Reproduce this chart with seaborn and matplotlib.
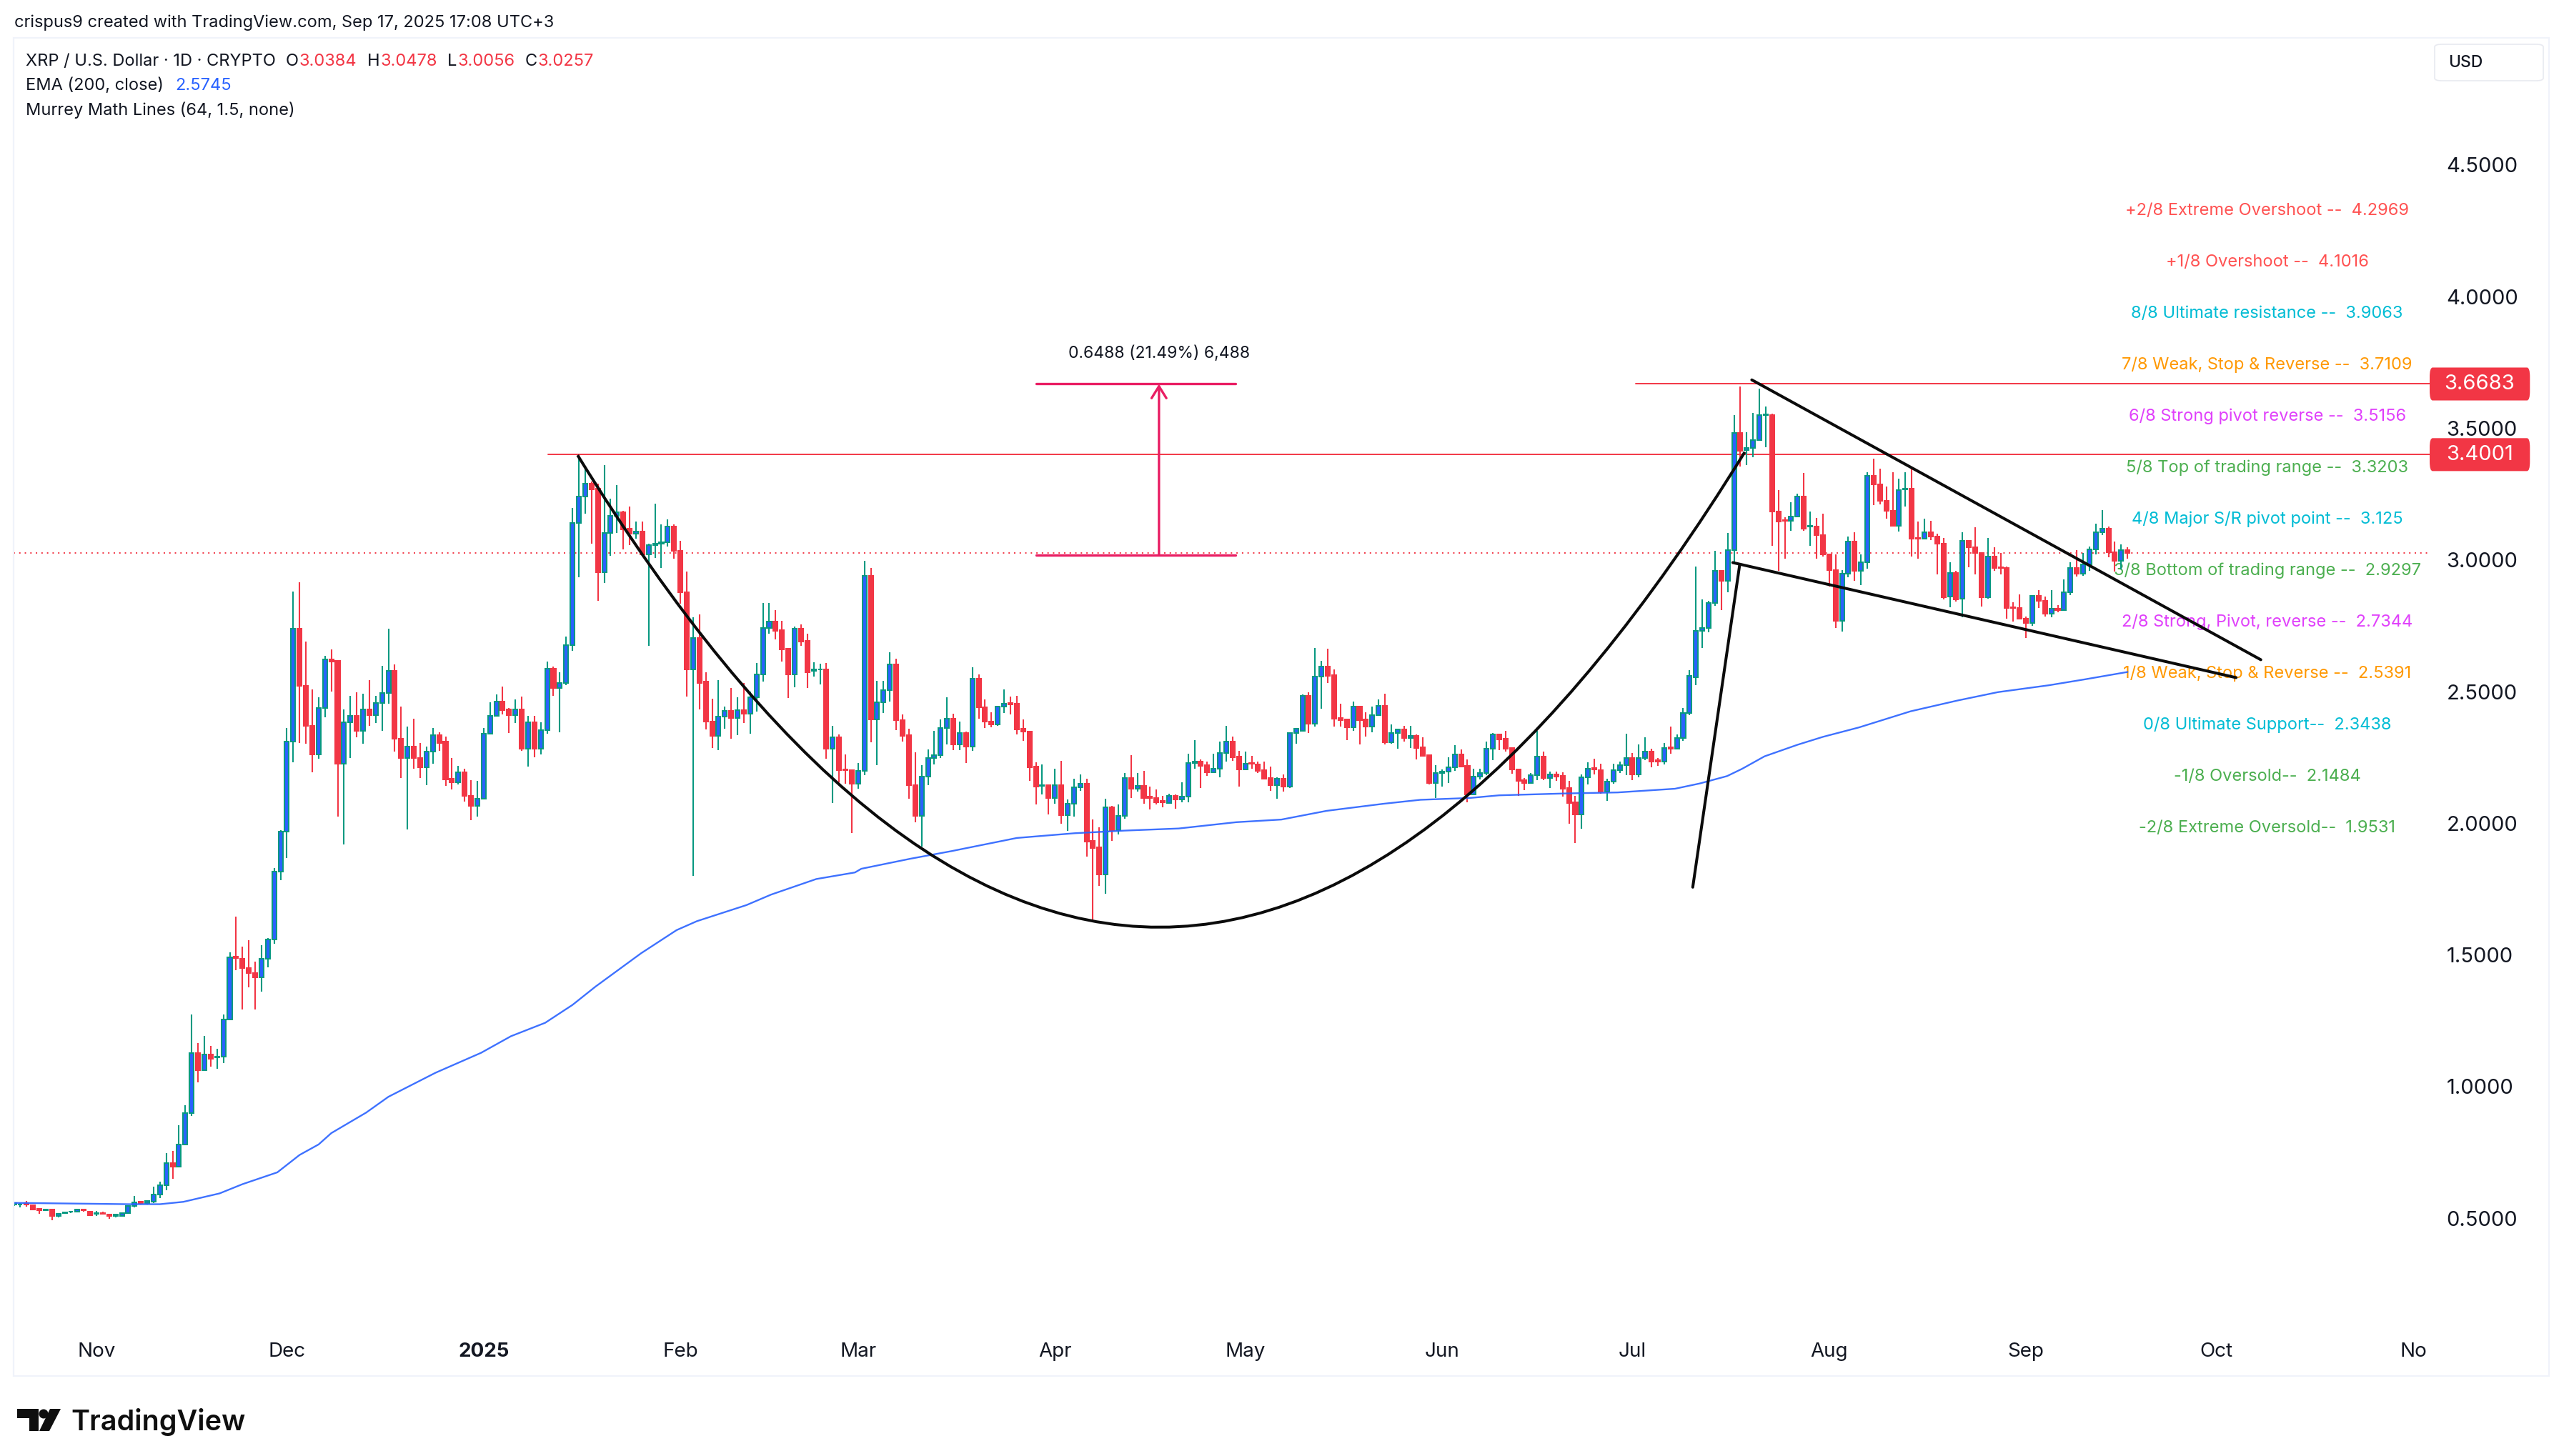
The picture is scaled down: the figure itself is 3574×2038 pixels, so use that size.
import numpy as np
import pandas as pd
import matplotlib
matplotlib.use("Agg")
import matplotlib.pyplot as plt
from matplotlib.patches import FancyBboxPatch, Rectangle, Polygon, Circle, PathPatch
from matplotlib.path import Path
from matplotlib.transforms import blended_transform_factory
import seaborn as sns

# ---- daily candles, day number counted from 1 Nov 2024 ----
first_day = -13
opens = [
 .552,.551,.558,.549,.536,.529,.534,.507,.520,.524,.524,.533,.525,.516,.520,.513,.507,.507,.518,.545,
 .562,.556,.563,.591,.625,.710,.696,.780,.899,1.128,1.061,1.121,1.112,1.113,1.255,1.492,1.485,1.449,1.430,1.414,
 1.485,1.559,1.817,1.968,2.311,2.738,2.523,2.371,2.262,2.438,2.623,2.616,2.225,2.384,2.409,2.350,2.433,2.410,2.457,2.495,
 2.580,2.320,2.249,2.290,2.249,2.213,2.273,2.334,2.309,2.168,2.156,2.194,2.105,2.067,2.094,2.341,2.409,2.463,2.431,2.410,
 2.431,2.282,2.384,2.282,2.354,2.588,2.513,2.534,2.677,3.140,3.241,3.289,3.271,2.953,3.102,3.168,3.180,3.118,3.099,3.107,
 3.020,3.056,3.061,3.067,3.128,3.035,2.878,2.583,2.703,2.537,2.386,2.331,2.404,2.426,2.399,2.429,2.417,2.479,2.566,2.742,
 2.766,2.733,2.663,2.566,2.740,2.694,2.578,2.583,2.583,2.283,2.327,2.205,2.201,2.150,2.199,2.939,2.394,2.459,2.506,2.604,
 2.392,2.334,2.145,2.029,2.178,2.247,2.259,2.361,2.398,2.299,2.343,2.290,2.550,2.440,2.387,2.375,2.443,2.457,2.455,2.358,
 2.349,2.214,2.142,2.145,2.096,2.145,2.031,2.073,2.137,2.151,1.933,1.908,1.806,2.060,1.974,2.029,2.172,2.131,2.141,2.100,
 2.097,2.084,2.076,2.103,2.091,2.100,2.228,2.234,2.221,2.194,2.206,2.266,2.309,2.252,2.205,2.228,2.223,2.202,2.171,2.145,
 2.169,2.140,2.342,2.352,2.484,2.379,2.556,2.594,2.562,2.400,2.393,2.365,2.442,2.393,2.368,2.410,2.446,2.308,2.344,2.357,
 2.325,2.332,2.288,2.259,2.154,2.190,2.195,2.212,2.261,2.218,2.108,2.176,2.192,2.282,2.336,2.321,2.286,2.204,2.163,2.154,
 2.182,2.252,2.173,2.185,2.180,2.134,2.079,2.032,2.174,2.209,2.201,2.121,2.157,2.201,2.221,2.249,2.185,2.248,2.271,2.240,
 2.235,2.288,2.284,2.323,2.418,2.555,2.732,2.741,2.837,2.960,2.920,3.038,3.482,3.417,3.425,3.455,3.550,3.551,3.184,3.151,
 3.148,3.166,3.240,3.127,3.127,3.094,3.020,2.962,2.768,2.948,3.070,2.960,2.991,3.319,3.286,3.225,3.187,3.130,3.268,3.272,
 3.084,3.081,3.106,3.090,3.062,2.860,2.951,2.852,3.073,3.047,3.026,2.857,3.013,2.973,2.969,2.821,2.818,2.777,2.760,2.863,
 2.845,2.795,2.815,2.810,2.877,2.970,2.948,2.984,3.041,3.106,3.119,3.030,2.996,3.0384]
highs = [
 .560,.556,.565,.549,.536,.534,.534,.516,.522,.525,.533,.533,.525,.527,.524,.513,.513,.518,.545,.583,
 .565,.565,.620,.638,.747,.756,.852,.930,1.274,1.166,1.193,1.155,1.143,1.274,1.509,1.646,1.530,1.557,1.475,1.537,
 1.565,1.831,1.974,2.363,2.880,2.914,2.689,2.509,2.478,2.636,2.660,2.619,2.431,2.483,2.497,2.491,2.543,2.483,2.597,2.738,
 2.603,2.442,2.367,2.397,2.306,2.291,2.361,2.345,2.328,2.249,2.217,2.206,2.163,2.160,2.361,2.459,2.489,2.518,2.439,2.470,
 2.481,2.409,2.407,2.383,2.614,2.594,2.573,2.709,3.198,3.398,3.349,3.297,3.289,3.361,3.232,3.283,3.186,3.203,3.145,3.145,
 3.061,3.213,3.135,3.153,3.134,3.072,2.956,2.782,2.793,2.574,2.474,2.544,2.444,2.515,2.479,2.534,2.500,2.609,2.836,2.836,
 2.810,2.769,2.663,2.747,2.754,2.720,2.612,2.607,2.609,2.371,2.337,2.262,2.205,2.228,2.996,2.969,2.541,2.541,2.649,2.625,
 2.413,2.358,2.269,2.220,2.281,2.351,2.395,2.479,2.416,2.386,2.347,2.592,2.564,2.471,2.421,2.447,2.508,2.481,2.483,2.395,
 2.349,2.232,2.223,2.145,2.206,2.237,2.090,2.170,2.184,2.169,2.013,1.985,2.093,2.066,2.072,2.192,2.258,2.192,2.198,2.138,
 2.128,2.104,2.111,2.110,2.155,2.263,2.316,2.243,2.234,2.264,2.309,2.370,2.328,2.274,2.273,2.256,2.234,2.234,2.214,2.174,
 2.185,2.342,2.359,2.488,2.497,2.665,2.616,2.663,2.583,2.454,2.393,2.461,2.442,2.422,2.442,2.469,2.492,2.375,2.357,2.370,
 2.370,2.336,2.326,2.259,2.221,2.205,2.250,2.296,2.280,2.241,2.207,2.207,2.310,2.343,2.341,2.352,2.288,2.207,2.171,2.191,
 2.350,2.271,2.196,2.196,2.193,2.160,2.104,2.185,2.232,2.245,2.227,2.169,2.225,2.234,2.339,2.268,2.300,2.326,2.282,2.248,
 2.305,2.366,2.336,2.439,2.581,2.974,2.849,2.846,3.034,2.960,3.102,3.549,3.660,3.486,3.558,3.650,3.583,3.556,3.266,3.163,
 3.219,3.252,3.330,3.184,3.159,3.177,3.020,3.020,2.962,3.090,3.106,3.020,3.333,3.385,3.347,3.280,3.333,3.308,3.333,3.353,
 3.145,3.158,3.148,3.100,3.083,2.990,2.960,3.106,3.073,3.124,3.026,3.083,3.048,3.027,2.976,2.839,2.870,2.784,2.867,2.885,
 2.860,2.885,2.829,2.926,2.992,3.038,3.027,3.051,3.138,3.188,3.127,3.069,3.059,3.0478]
lows = [
 .545,.540,.544,.534,.516,.529,.493,.502,.518,.520,.524,.525,.511,.507,.516,.498,.502,.507,.518,.540,
 .553,.553,.556,.576,.607,.649,.692,.780,.888,1.016,1.061,1.075,1.066,1.088,1.255,1.441,1.293,1.376,1.293,1.360,
 1.452,1.542,1.783,1.868,2.231,2.306,2.301,2.194,2.244,2.402,2.501,2.026,1.920,2.247,2.326,2.301,2.370,2.380,2.350,2.454,
 2.272,2.173,1.976,2.206,2.173,2.145,2.225,2.274,2.142,2.127,2.147,2.082,2.012,2.026,2.094,2.341,2.409,2.412,2.342,2.380,
 2.274,2.215,2.250,2.261,2.341,2.483,2.345,2.525,2.655,2.933,3.177,3.063,2.846,2.913,3.015,3.102,3.040,3.056,3.080,3.020,
 2.673,3.008,2.969,3.051,3.005,2.833,2.480,1.801,2.432,2.355,2.287,2.277,2.359,2.320,2.335,2.380,2.341,2.423,2.537,2.720,
 2.697,2.614,2.476,2.517,2.673,2.515,2.558,2.526,2.244,2.078,2.156,2.151,1.964,2.132,2.182,2.307,2.220,2.418,2.462,2.353,
 2.311,2.093,2.003,1.912,2.145,2.224,2.247,2.299,2.277,2.277,2.230,2.275,2.398,2.363,2.365,2.371,2.419,2.414,2.337,2.313,
 2.162,2.072,2.108,2.033,2.073,1.997,1.971,2.025,2.124,1.874,1.628,1.761,1.733,1.933,1.957,2.017,2.097,2.121,2.074,2.053,
 2.070,2.060,2.076,2.056,2.080,2.080,2.207,2.135,2.180,2.194,2.175,2.234,2.237,2.139,2.205,2.207,2.192,2.167,2.124,2.094,
 2.121,2.135,2.303,2.352,2.343,2.368,2.436,2.534,2.368,2.368,2.316,2.350,2.300,2.329,2.345,2.410,2.298,2.303,2.282,2.310,
 2.285,2.243,2.252,2.146,2.097,2.140,2.153,2.198,2.214,2.080,2.108,2.165,2.183,2.240,2.278,2.272,2.187,2.103,2.126,2.154,
 2.164,2.164,2.135,2.162,2.101,1.998,1.925,1.979,2.148,2.185,2.113,2.085,2.151,2.192,2.183,2.164,2.174,2.240,2.212,2.219,
 2.223,2.264,2.284,2.314,2.411,2.525,2.665,2.725,2.825,2.809,2.878,2.985,3.354,3.361,3.391,3.455,3.428,3.055,2.960,3.005,
 3.110,3.166,3.110,3.055,3.005,3.013,2.899,2.742,2.728,2.934,2.920,2.905,2.966,3.208,3.211,3.156,3.130,3.108,3.202,3.013,
 3.006,3.081,3.076,2.944,2.849,2.821,2.843,2.781,2.971,2.944,2.824,2.852,2.960,2.944,2.777,2.766,2.775,2.703,2.749,2.818,
 2.786,2.781,2.800,2.810,2.867,2.937,2.940,2.960,3.020,3.094,3.010,2.957,2.964,3.0056]
closes = [
 .556,.553,.551,.534,.529,.534,.507,.516,.522,.525,.533,.529,.511,.518,.516,.507,.513,.518,.545,.560,
 .556,.565,.591,.625,.710,.696,.780,.899,1.128,1.061,1.121,1.106,1.113,1.255,1.490,1.488,1.449,1.430,1.414,1.485,
 1.559,1.817,1.968,2.311,2.738,2.523,2.371,2.262,2.438,2.623,2.615,2.225,2.384,2.409,2.350,2.433,2.410,2.457,2.495,2.580,
 2.320,2.249,2.290,2.247,2.213,2.273,2.334,2.306,2.166,2.156,2.194,2.104,2.067,2.094,2.341,2.409,2.463,2.429,2.410,2.431,
 2.282,2.384,2.282,2.354,2.588,2.513,2.534,2.677,3.140,3.241,3.289,3.269,2.953,3.102,3.168,3.180,3.116,3.099,3.107,3.020,
 3.056,3.061,3.067,3.128,3.035,2.878,2.583,2.703,2.534,2.386,2.331,2.404,2.426,2.399,2.429,2.417,2.479,2.566,2.742,2.766,
 2.731,2.661,2.566,2.740,2.691,2.574,2.583,2.585,2.283,2.327,2.202,2.201,2.150,2.199,2.939,2.394,2.459,2.506,2.604,2.392,
 2.332,2.145,2.029,2.178,2.247,2.259,2.361,2.398,2.299,2.343,2.290,2.550,2.440,2.386,2.375,2.443,2.453,2.452,2.355,2.347,
 2.213,2.139,2.145,2.096,2.145,2.031,2.073,2.137,2.151,1.930,1.906,1.806,2.060,1.974,2.029,2.172,2.131,2.141,2.097,2.097,
 2.080,2.079,2.103,2.091,2.100,2.228,2.234,2.219,2.194,2.206,2.266,2.309,2.250,2.205,2.225,2.225,2.200,2.169,2.145,2.169,
 2.140,2.342,2.359,2.484,2.379,2.556,2.594,2.561,2.398,2.392,2.365,2.442,2.392,2.368,2.410,2.446,2.308,2.344,2.357,2.325,
 2.332,2.287,2.256,2.154,2.190,2.195,2.212,2.261,2.214,2.108,2.176,2.192,2.282,2.336,2.318,2.283,2.203,2.162,2.154,2.182,
 2.252,2.173,2.185,2.178,2.131,2.077,2.032,2.174,2.207,2.204,2.121,2.157,2.201,2.221,2.249,2.185,2.248,2.271,2.235,2.235,
 2.285,2.284,2.323,2.418,2.559,2.732,2.741,2.837,2.960,2.920,3.038,3.482,3.414,3.425,3.455,3.551,3.554,3.184,3.147,3.148,
 3.166,3.240,3.120,3.130,3.094,3.020,2.962,2.768,2.948,3.070,2.960,2.991,3.319,3.286,3.225,3.187,3.130,3.266,3.272,3.081,
 3.081,3.106,3.090,3.062,2.857,2.951,2.849,3.072,3.047,3.026,2.857,3.013,2.970,2.970,2.818,2.818,2.777,2.760,2.863,2.845,
 2.795,2.814,2.810,2.877,2.970,2.948,2.984,3.041,3.106,3.119,3.030,2.996,3.038,3.0257]

# ---- 200-day EMA ----
ema_days = [-13,5,10,13.7,19.4,23,28.5,32,35,37,42.5,46,53.4,60.6,65.3,70.7,75,78.6,85.8,91.4,94.6,102.4,106.3,113.4,
            119.5,120.5,128.2,134.7,145,154.1,162,170.5,179.6,186.7,193.8,202.8,208.6,216.4,221,231.3,239.7,248.7,
            252.6,256.9,259.3,262.8,268,272,277.7,285.8,293.2,299.6,307.6,313.4,320]
ema_vals = [.558,.553,.553,.562,.594,.629,.674,.740,.780,.823,.901,.961,1.052,1.128,1.191,1.242,1.310,1.379,1.506,1.594,
            1.628,1.689,1.729,1.788,1.813,1.827,1.865,1.894,1.944,1.962,1.972,1.980,2.004,2.014,2.047,2.074,2.089,2.096,
            2.106,2.113,2.117,2.131,2.151,2.179,2.207,2.254,2.298,2.328,2.364,2.425,2.466,2.498,2.524,2.547,2.5745]

# ---- hand-drawn shapes ----
cup_start = (75.8, 3.398)
cup_control = (167.45, -0.194)
cup_end = (259.7, 3.410)
pole_days, pole_vals = [251.5, 258.9], [1.757, 2.983]
lower_days, lower_vals = [257.8, 337.1], [2.990, 2.553]
upper_days, upper_vals = [260.8, 341.0], [3.684, 2.621]

resistance_vals = [3.4001, 3.6683]
resistance_starts = [71.2, 242.5]
last_close = 3.0257
measure_days = [148, 179.5]
measure_arrow_day = 167.4
measure_low, measure_high = 3.0195, 3.6683

price_ticks = [0.5, 1.0, 1.5, 2.0, 2.5, 3.0, 3.5, 4.0, 4.5]
month_days = [0, 30, 61, 92, 120, 151, 181, 212, 242, 273, 304, 334, 365]
month_labels = ["Nov", "Dec", "2025", "Feb", "Mar", "Apr", "May", "Jun", "Jul", "Aug", "Sep", "Oct", "No"]

murrey_levels = [4.2969, 4.1016, 3.9063, 3.7109, 3.5156, 3.3203, 3.125, 2.9297, 2.7344, 2.5391, 2.3438, 2.1484, 1.9531]
murrey_names = ["+2/8 Extreme Overshoot --  4.2969", "+1/8 Overshoot --  4.1016", "8/8 Ultimate resistance --  3.9063",
                "7/8 Weak, Stop & Reverse --  3.7109", "6/8 Strong pivot reverse --  3.5156",
                "5/8 Top of trading range --  3.3203", "4/8 Major S/R pivot point --  3.125",
                "3/8 Bottom of trading range --  2.9297", "2/8 Strong, Pivot, reverse --  2.7344",
                "1/8 Weak, Stop & Reverse --  2.5391", "0/8 Ultimate Support--  2.3438", "-1/8 Oversold--  2.1484",
                "-2/8 Extreme Oversold--  1.9531"]
murrey_colors = ["#FF5252", "#FF5252", "#00BCD4", "#FF9800", "#E040FB", "#4CAF50", "#00BCD4", "#4CAF50", "#E040FB",
                 "#FF9800", "#00BCD4", "#4CAF50", "#4CAF50"]
murrey_center_day = 342

# ---- style ----
W, H = 3574, 2038
sns.set_theme(style="white")
plt.rcParams["font.family"] = ["Inter", "DejaVu Sans"]
RED, GREEN, BLUE, INK = "#F23645", "#089981", "#2962FF", "#131722"
PINK = "#E91E63"

fig = plt.figure(figsize=(W / 100, H / 100), dpi=100, facecolor="white")
ax = fig.add_axes([19 / W, 1 - 1851 / H, (3400 - 19) / W, (1851 - 53) / H])
ax.set_facecolor("white")

candles = pd.DataFrame({"day": np.arange(first_day, first_day + len(closes)),
                        "open": opens, "high": highs, "low": lows, "close": closes})
up = candles[candles.close >= candles.open]
down = candles[candles.close < candles.open]

ax.vlines(up.day, up.low, up.high, color=GREEN, lw=1.5, zorder=3)
ax.vlines(down.day, down.low, down.high, color=RED, lw=1.5, zorder=3)
ax.bar(up.day, up.close - up.open, bottom=up.open, width=0.68, color=BLUE, edgecolor=GREEN, linewidth=1.45, zorder=3.2)
ax.bar(down.day, down.close - down.open, bottom=down.open, width=0.68, color=RED, edgecolor=RED, linewidth=1.45, zorder=3.2)

sns.lineplot(x=ema_days, y=ema_vals, ax=ax, color=BLUE, lw=1.7, alpha=.9, estimator=None, sort=False, zorder=4)
for xs, ys in [(pole_days, pole_vals), (lower_days, lower_vals), (upper_days, upper_vals)]:
    sns.lineplot(x=xs, y=ys, ax=ax, color="#0b0b0b", lw=2.9, estimator=None, sort=False, zorder=5)
ax.add_patch(PathPatch(Path([cup_start, cup_control, cup_end], [Path.MOVETO, Path.CURVE3, Path.CURVE3]),
                       fc="none", ec="#0b0b0b", lw=2.9, zorder=5))

ax.set_xlim(-13.06, 367.6)
ax.set_ylim(0.104, 4.983)

# price lines
xmax = ax.get_xlim()[1]
for v, s in zip(resistance_vals, resistance_starts):
    ax.plot([s, xmax], [v, v], color=RED, lw=1.4, zorder=2.5)
ax.plot([ax.get_xlim()[0], xmax], [last_close, last_close], color=RED, lw=1.4, ls=(0, (1, 3)), zorder=2.5)

# measure tool
for v in (measure_low, measure_high):
    ax.plot(measure_days, [v, v], color=PINK, lw=2.4, zorder=5, solid_capstyle="round")
ax.annotate("", xy=(measure_arrow_day, measure_high), xytext=(measure_arrow_day, measure_low),
            arrowprops=dict(arrowstyle="->,head_length=1.0,head_width=0.62", color=PINK, lw=2.4,
                            shrinkA=0, shrinkB=0), zorder=5)
ax.text(measure_arrow_day, 3.755, "0.6488 (21.49%) 6,488", ha="center", va="bottom", fontsize=16.5, color=INK)

# Murrey labels
for lv, name, c in zip(murrey_levels, murrey_names, murrey_colors):
    ax.text(murrey_center_day, lv, name, color=c, ha="center", va="bottom", fontsize=17, zorder=1.5)

# axes
ax.yaxis.tick_right()
ax.set_yticks(price_ticks)
ax.set_yticklabels([f"{t:.4f}" for t in price_ticks], fontsize=21, color=INK)
ax.tick_params(axis="y", length=0, pad=17)
ax.set_xticks(month_days)
ax.set_xticklabels(month_labels, fontsize=20, color=INK)
ax.tick_params(axis="x", length=0, pad=20)
for lab in ax.get_xticklabels():
    if lab.get_text() == "2025":
        lab.set_fontweight("bold")
for sp in ax.spines.values():
    sp.set_visible(False)
ax.set_xlabel("")
ax.set_ylabel("")

# red price boxes on the scale
blend = blended_transform_factory(ax.transAxes, ax.transData)
for v in resistance_vals:
    ax.add_patch(FancyBboxPatch((1.0, v - 0.0625), 0.0415, 0.125, boxstyle="round,pad=0,rounding_size=0.0012",
                                transform=blend, fc=RED, ec=RED, lw=0, clip_on=False, zorder=6, mutation_aspect=30))
    ax.text(1.0207, v, f"{v:.4f}", transform=blend, color="white", fontsize=21, ha="center", va="center",
            clip_on=False, zorder=7)

# frame
fig.add_artist(Rectangle((19 / W, 1 - 1926 / H), (3567 - 19) / W, (1926 - 53) / H, fill=False,
                         ec="#F0F3FA", lw=1.6, transform=fig.transFigure))
# currency box
fig.add_artist(FancyBboxPatch((3407 / W, 1 - 113 / H), 152 / W, 51 / H, boxstyle="round,pad=0,rounding_size=0.003",
                              transform=fig.transFigure, fc="white", ec="#E8EAF0", lw=1.2, mutation_aspect=H / W))
fig.text(3426 / W, 1 - 88 / H, "USD", fontsize=16.5, color=INK, va="center", ha="left", fontweight="medium")

# header texts
renderer = fig.canvas.get_renderer()
def chain(x, y, parts, size):
    for s, c, gap in parts:
        t = fig.text(x / W, 1 - y / H, s, color=c, fontsize=size, va="center", ha="left")
        x = t.get_window_extent(renderer).x1 + gap

chain(20, 32, [("crispus9 created with TradingView.com, Sep 17, 2025 17:08 UTC+3", INK, 0)], 17)
chain(36, 86, [("XRP / U.S. Dollar · 1D · CRYPTO", INK, 14), ("O", INK, 1), ("3.0384", RED, 14), ("H", INK, 1),
               ("3.0478", RED, 14), ("L", INK, 1), ("3.0056", RED, 14), ("C", INK, 1), ("3.0257", RED, 0)], 17)
chain(36, 120, [("EMA (200, close)", INK, 16), ("2.5745", BLUE, 0)], 17)
chain(36, 154, [("Murrey Math Lines (64, 1.5, none)", INK, 0)], 17)

# logo
logo = "#0F0F0F"
fig.add_artist(Polygon([(24 / W, 1 - 1972 / H), (54 / W, 1 - 1972 / H), (54 / W, 1 - 2003 / H), (41 / W, 1 - 2003 / H),
                        (41 / W, 1 - 1985 / H), (24 / W, 1 - 1985 / H)], closed=True, fc=logo, ec="none",
                       transform=fig.transFigure))
fig.add_artist(Polygon([(70 / W, 1 - 1972 / H), (85 / W, 1 - 1972 / H), (69 / W, 1 - 2003 / H), (55 / W, 1 - 2003 / H)],
                       closed=True, fc=logo, ec="none", transform=fig.transFigure))
fig.add_artist(Circle((61, H - 1979), 6.5, fc=logo, ec="none", transform=None))
fig.text(99 / W, 1 - 1990 / H, "TradingView", fontsize=28.5, fontweight="semibold", color=logo, va="center", ha="left")

fig.savefig("out.png", dpi=100, facecolor="white")
